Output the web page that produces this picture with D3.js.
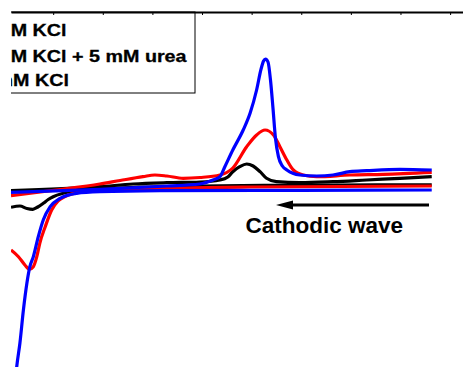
<!DOCTYPE html>
<html>
<head>
<meta charset="utf-8">
<script src="https://cdn.jsdelivr.net/npm/d3@7"></script>
<style>
html,body{margin:0;padding:0;background:#fff;}
svg{display:block;}
text{font-family:"Liberation Sans",Arial,Helvetica,sans-serif;font-weight:bold;}
</style>
</head>
<body>
<script>
// ---- data (potential E in V, current I in arbitrary units) ----
const blackForward = [[-0.885,-0.07],[-0.706,0.33],[-0.639,0.6],[-0.571,0.73],[-0.504,0.8],[-0.464,1.0],[-0.448,1.3],[-0.438,1.83],[-0.424,2.33],[-0.41,2.6],[-0.397,2.4],[-0.383,1.83],[-0.37,1.17],[-0.35,0.83],[-0.303,0.73],[-0.236,0.83],[-0.168,1.0],[-0.101,1.17],[-0.037,1.33]];
const blackReturn = [[-0.885,-1.73],[-0.867,-1.6],[-0.853,-1.85],[-0.841,-1.93],[-0.831,-1.7],[-0.82,-1.33],[-0.81,-0.95],[-0.8,-0.67],[-0.78,-0.33],[-0.746,-0.05],[-0.706,0.1],[-0.605,0.3],[-0.504,0.4],[-0.303,0.47],[-0.037,0.52]];
const redForward = [[-0.885,-0.57],[-0.786,0.05],[-0.706,0.6],[-0.665,0.95],[-0.619,1.33],[-0.595,1.5],[-0.571,1.4],[-0.538,1.17],[-0.504,1.25],[-0.464,1.5],[-0.438,2.2],[-0.41,4.33],[-0.39,5.5],[-0.373,6.0],[-0.356,5.5],[-0.343,4.33],[-0.329,3.0],[-0.316,2.0],[-0.296,1.5],[-0.269,1.33],[-0.202,1.5],[-0.135,1.57],[-0.037,1.77]];
const redReturn = [[-0.885,-6.0],[-0.87,-6.67],[-0.857,-7.5],[-0.848,-7.93],[-0.84,-7.67],[-0.833,-6.67],[-0.827,-5.33],[-0.816,-3.67],[-0.803,-2.0],[-0.79,-1.1],[-0.774,-0.6],[-0.746,-0.2],[-0.706,0.0],[-0.585,0.17],[-0.403,0.3],[-0.037,0.4]];
const blueForward = [[-0.885,-0.23],[-0.705,0.07],[-0.57,0.4],[-0.505,0.6],[-0.478,1.0],[-0.464,1.33],[-0.454,2.33],[-0.438,4.0],[-0.417,6.0],[-0.403,7.7],[-0.39,10.0],[-0.381,12.1],[-0.376,12.9],[-0.372,13.1],[-0.367,12.8],[-0.362,11.0],[-0.357,8.2],[-0.352,5.2],[-0.346,3.33],[-0.338,2.4],[-0.329,2.0],[-0.303,1.5],[-0.269,1.4],[-0.236,1.5],[-0.202,1.83],[-0.168,1.93],[-0.101,2.07],[-0.037,2.0]];
const blueReturn = [[-0.876,-19.0],[-0.8735,-17.7],[-0.867,-15.3],[-0.86,-12.0],[-0.853,-9.33],[-0.847,-7.67],[-0.84,-6.67],[-0.83,-4.67],[-0.82,-3.0],[-0.806,-1.67],[-0.786,-0.83],[-0.753,-0.33],[-0.706,-0.17],[-0.585,-0.07],[-0.303,-0.03],[-0.037,0.0]];

const seriesColors = ["#000000","#ff0000","#0000ff"];
const legendLabels = ["M KCl","M KCl + 5 mM urea","mM KCl"];
const tickValues = [-0.8,-0.7,-0.6,-0.5,-0.4,-0.3,-0.2,-0.1,0.0];
const annotation = "Cathodic wave";

// ---- chart ----
const W = 463, H = 367;
const svg = d3.select("body").append("svg").attr("width", W).attr("height", H);
svg.append("rect").attr("width", W).attr("height", H).attr("fill", "#fff");

svg.append("defs").append("clipPath").attr("id","clip")
  .append("rect").attr("x",11).attr("y",0).attr("width",W-11).attr("height",H);

const x = d3.scaleLinear().domain([-0.885, 0.026]).range([11, 463]);
const y = d3.scaleLinear().domain([-17.7, 17.8]).range([367, 12]);

const g = svg.append("g").attr("clip-path","url(#clip)");

const line = d3.line().x(d => x(d[0])).y(d => y(d[1])).curve(d3.curveMonotoneX);

const curves = [
  {data: blackForward, c: seriesColors[0]},
  {data: blackReturn, c: seriesColors[0]},
  {data: redForward, c: seriesColors[1]},
  {data: redReturn, c: seriesColors[1]},
  {data: blueForward, c: seriesColors[2]},
  {data: blueReturn, c: seriesColors[2]}
];
g.selectAll("path.curve").data(curves).enter().append("path")
  .attr("class","curve")
  .attr("d", d => line(d.data))
  .attr("fill","none")
  .attr("stroke", d => d.c)
  .attr("stroke-width", 3.2)
  .attr("stroke-linejoin","round");

// legend box
g.append("rect").attr("x", -10).attr("y", 12).attr("width", 205).attr("height", 81)
  .attr("fill","#fff").attr("stroke","#000").attr("stroke-width",1);
const legendPos = [[10.7,35.5],[10.7,62.2],[-4.5,86.3]];
legendLabels.forEach((t,i) => {
  g.append("g").attr("transform", `translate(${legendPos[i][0]},${legendPos[i][1]}) scale(1.16,1)`)
    .append("text").attr("x",0).attr("y",0).attr("font-size",17).attr("fill","#000")
    .attr("stroke","#000").attr("stroke-width",0.3).text(t);
});

// top axis frame with inward ticks
const axis = d3.axisBottom(x).tickValues(tickValues).tickSize(3).tickSizeOuter(0).tickFormat("");
const ax = g.append("g").attr("transform","translate(0,12)").call(axis);
ax.select(".domain").attr("stroke","#000").attr("stroke-width",2.2);
ax.selectAll(".tick line").attr("stroke","#000").attr("stroke-width",1);

// arrow + annotation
const arrowY = 205;
g.append("line").attr("x1",429).attr("x2",290).attr("y1",arrowY).attr("y2",arrowY)
  .attr("stroke","#000").attr("stroke-width",3);
g.append("path").attr("d",`M276,${arrowY} L293,${arrowY-4.5} L293,${arrowY+4.5} Z`).attr("fill","#000");
g.append("text").attr("x",245.5).attr("y",233).attr("font-size",22.5).attr("fill","#000").text(annotation);
</script>
</body>
</html>
